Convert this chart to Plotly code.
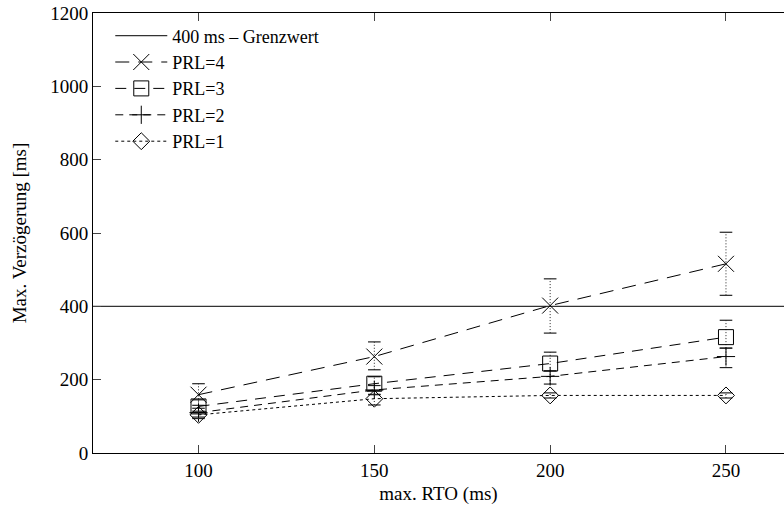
import plotly.graph_objects as go

rto = [100, 150, 200, 250]
prl4 = [159, 263, 402, 516]
prl4_lo = [130, 227, 327, 430]
prl4_hi = [189, 303, 475, 602]
prl3 = [127, 189, 244, 316]
prl3_lo = [110, 170, 224, 286]
prl3_hi = [145, 208, 275, 362]
prl2 = [110, 172, 209, 263]
prl2_lo = [98, 160, 188, 233]
prl2_hi = [122, 184, 224, 286]
prl1 = [104, 148, 157, 157]
prl1_lo = [94, 131, 150, 150]
prl1_hi = [114, 159, 164, 164]
grenzwert = 400
x_range = [70, 266.5]

FONT = "Liberation Serif"
FS = 19
fig = go.Figure()

fig.add_trace(go.Scatter(x=x_range, y=[grenzwert, grenzwert], mode="lines",
                         line=dict(color="#333", width=1.2), name="400 ms \u2013 Grenzwert"))

series = [
    ("PRL=4", prl4, prl4_lo, prl4_hi, "x-thin-open", 16, "14px,9px"),
    ("PRL=3", prl3, prl3_lo, prl3_hi, "square-open", 15, "11px,8px"),
    ("PRL=2", prl2, prl2_lo, prl2_hi, "cross-thin-open", 13, "8px,6px"),
    ("PRL=1", prl1, prl1_lo, prl1_hi, "diamond-open", 13, "3px,3px"),
]

for name, y, lo, hi, sym, size, dash in series:
    ex, ey = [], []
    for xi, l, h in zip(rto, lo, hi):
        ex += [xi, xi, None]
        ey += [l, h, None]
    fig.add_trace(go.Scatter(x=ex, y=ey, mode="lines", showlegend=False,
                             line=dict(color="#222", width=1, dash="1px,2px"), hoverinfo="skip"))
    fig.add_trace(go.Scatter(x=rto + rto, y=lo + hi, mode="markers", showlegend=False,
                             marker=dict(symbol="line-ew", size=9, line=dict(color="#222", width=1.2)),
                             hoverinfo="skip"))
    fig.add_trace(go.Scatter(x=rto, y=y, mode="lines+markers", name=name,
                             line=dict(color="black", width=1, dash=dash),
                             marker=dict(symbol=sym, size=size, color="black",
                                         line=dict(color="black", width=1))))

fig.update_layout(
    width=784, height=507,
    margin=dict(l=93, r=0, t=13, b=54),
    paper_bgcolor="white", plot_bgcolor="white",
    font=dict(family=FONT, size=FS, color="black"),
    showlegend=True,
    legend=dict(x=0.025, y=0.99, xanchor="left", yanchor="top",
                bgcolor="rgba(0,0,0,0)", itemwidth=52, tracegroupgap=0,
                font=dict(family=FONT, size=18)),
    xaxis=dict(range=x_range, tickvals=rto, ticks="inside", ticklen=8,
               showline=True, linecolor="black", linewidth=1, mirror="ticks",
               showgrid=False, zeroline=False,
               title=dict(text="max. RTO (ms)", font=dict(family=FONT, size=FS), standoff=6),
               tickfont=dict(family=FONT, size=FS)),
    yaxis=dict(range=[0, 1200], dtick=200, ticks="inside", ticklen=8,
               showline=True, linecolor="black", linewidth=1,
               showgrid=False, zeroline=False,
               title=dict(text="Max. Verzögerung [ms]", font=dict(family=FONT, size=FS), standoff=18),
               tickfont=dict(family=FONT, size=FS)),
)

fig.write_html("out.html")
